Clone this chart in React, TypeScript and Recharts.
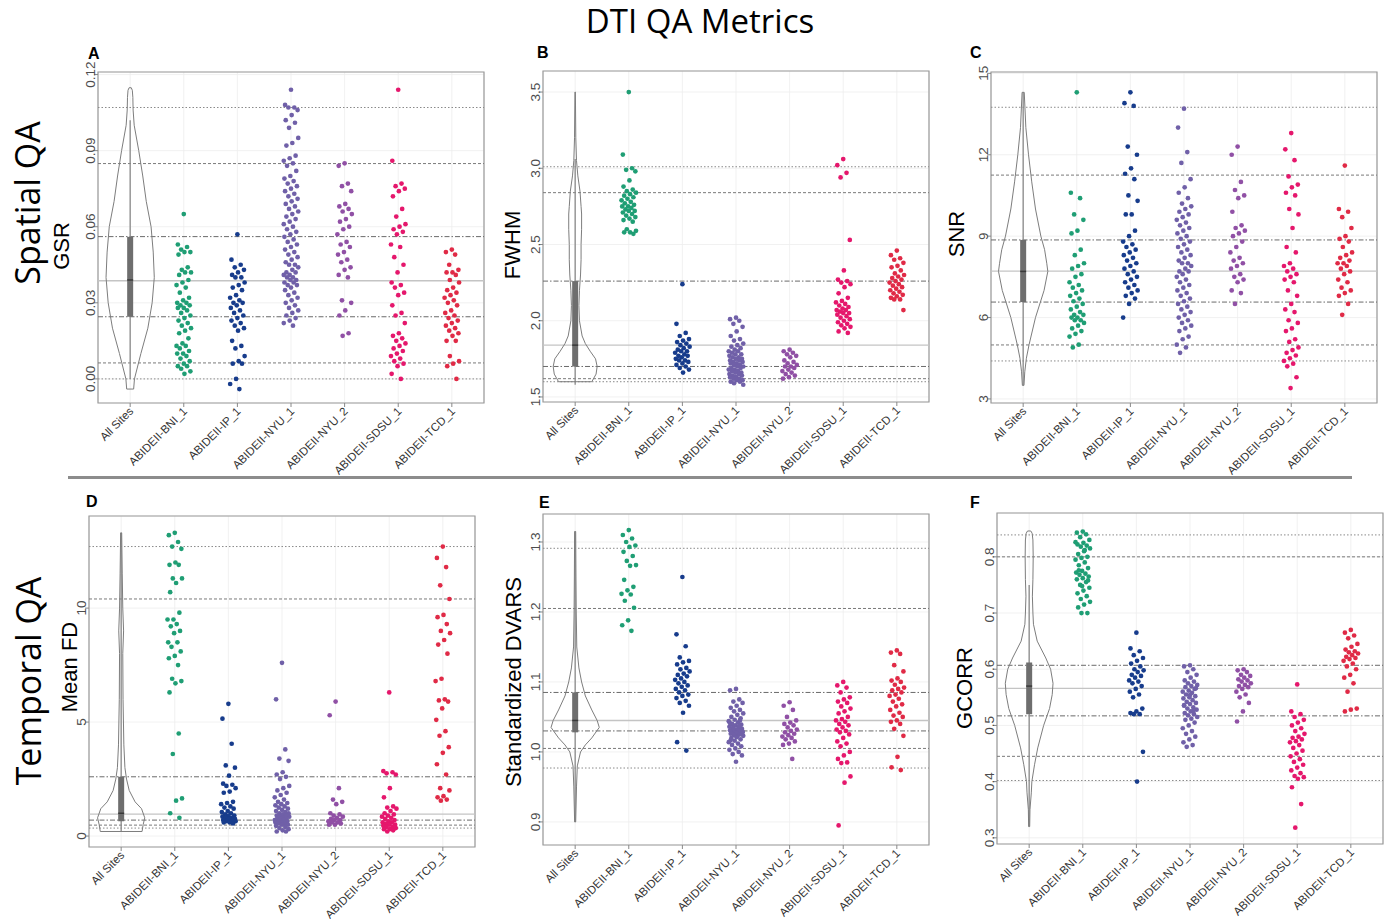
import React from 'react';
import { ScatterChart, Scatter, XAxis, YAxis, CartesianGrid, ReferenceLine, ReferenceArea } from 'recharts';

const sites = ['All Sites', 'ABIDEII-BNI_1', 'ABIDEII-IP_1', 'ABIDEII-NYU_1', 'ABIDEII-NYU_2', 'ABIDEII-SDSU_1', 'ABIDEII-TCD_1'];
const siteColors = ['#1f9e74', '#173c8c', '#7060a8', '#9050a5', '#e5176c', '#e02a46'];

// ---- GSR ----
const gsrBni = [0.065,0.053,0.052,0.051,0.05,0.05,0.049,0.044,0.043,0.042,0.042,0.041,0.039,0.038,0.037,0.036,0.034,0.032,0.031,0.03,0.03,0.029,0.029,0.028,0.028,0.027,0.026,0.025,0.024,0.023,0.022,0.021,0.02,0.019,0.018,0.016,0.014,0.013,0.013,0.012,0.011,0.01,0.01,0.009,0.008,0.007,0.006,0.005,0.005,0.004,0.003,0.002];
const gsrIp = [0.057,0.047,0.045,0.044,0.043,0.042,0.041,0.04,0.04,0.038,0.037,0.036,0.035,0.033,0.032,0.031,0.03,0.03,0.029,0.028,0.027,0.026,0.025,0.024,0.023,0.022,0.021,0.02,0.019,0.015,0.013,0.012,0.009,0.007,0.006,0.006,0.0,-0.002,-0.004];
const gsrNyu1 = [0.114,0.108,0.107,0.107,0.106,0.104,0.102,0.101,0.099,0.095,0.093,0.092,0.088,0.087,0.086,0.085,0.084,0.082,0.08,0.079,0.078,0.077,0.076,0.075,0.074,0.073,0.072,0.071,0.07,0.069,0.068,0.067,0.066,0.065,0.064,0.063,0.062,0.061,0.06,0.059,0.058,0.057,0.056,0.055,0.054,0.053,0.052,0.051,0.05,0.049,0.048,0.047,0.046,0.045,0.045,0.044,0.043,0.042,0.042,0.041,0.041,0.04,0.04,0.039,0.039,0.038,0.038,0.037,0.037,0.036,0.035,0.034,0.033,0.032,0.031,0.03,0.029,0.028,0.027,0.026,0.025,0.024,0.023,0.022,0.021];
const gsrNyu2 = [0.085,0.084,0.077,0.076,0.074,0.069,0.068,0.067,0.066,0.065,0.063,0.062,0.06,0.059,0.057,0.054,0.053,0.052,0.05,0.049,0.047,0.046,0.044,0.043,0.041,0.04,0.031,0.03,0.027,0.025,0.018,0.017];
const gsrSdsu = [0.114,0.086,0.077,0.076,0.075,0.074,0.072,0.067,0.064,0.061,0.06,0.059,0.058,0.057,0.053,0.052,0.048,0.045,0.042,0.038,0.037,0.036,0.034,0.033,0.029,0.026,0.025,0.022,0.018,0.017,0.016,0.015,0.014,0.013,0.012,0.011,0.01,0.009,0.008,0.007,0.006,0.005,0.002,0.0];
const gsrTcd = [0.051,0.05,0.049,0.045,0.043,0.042,0.042,0.041,0.039,0.038,0.036,0.035,0.034,0.033,0.032,0.031,0.03,0.029,0.027,0.026,0.025,0.024,0.023,0.022,0.021,0.02,0.019,0.018,0.017,0.015,0.015,0.009,0.007,0.006,0.005,0.0];
const gsrViolin = [[-0.004,0.065],[0,0.08],[0.01,0.2],[0.02,0.33],[0.03,0.41],[0.04,0.45],[0.05,0.43],[0.06,0.39],[0.07,0.3],[0.08,0.235],[0.09,0.16],[0.1,0.075],[0.106,0.055],[0.111,0.05],[0.1138,0.04],[0.1148,0.02]];
const gsrBox = [0.0, 0.0245, 0.039, 0.056, 0.102];
const gsrRefs = [0.107, 0.0849, 0.0561, 0.0387, 0.0245, 0.0063, 0.0];

// ---- FWHM ----
const fwhmBni = [3.5,3.09,3.0,2.99,2.98,2.92,2.88,2.86,2.85,2.84,2.83,2.82,2.81,2.8,2.79,2.78,2.77,2.76,2.75,2.75,2.74,2.73,2.72,2.72,2.71,2.7,2.69,2.68,2.67,2.66,2.65,2.6,2.59,2.58,2.58,2.57];
const fwhmIp = [2.24,1.98,1.92,1.9,1.88,1.87,1.86,1.85,1.84,1.83,1.82,1.81,1.8,1.8,1.79,1.78,1.77,1.77,1.76,1.75,1.74,1.74,1.73,1.72,1.71,1.7,1.69,1.68,1.66];
const fwhmNyu1 = [2.02,2.01,2.0,1.98,1.96,1.93,1.9,1.88,1.87,1.85,1.84,1.83,1.82,1.81,1.8,1.8,1.79,1.78,1.78,1.77,1.76,1.76,1.75,1.75,1.74,1.74,1.73,1.73,1.72,1.72,1.71,1.71,1.7,1.7,1.69,1.69,1.68,1.68,1.67,1.67,1.66,1.66,1.65,1.65,1.64,1.64,1.63,1.63,1.62,1.62,1.61,1.61,1.6,1.6,1.59,1.58];
const fwhmNyu2 = [1.81,1.8,1.79,1.78,1.77,1.76,1.74,1.73,1.72,1.71,1.7,1.7,1.69,1.68,1.67,1.66,1.65,1.64,1.63,1.62];
const fwhmSdsu = [3.06,3.02,2.97,2.94,2.53,2.33,2.27,2.26,2.25,2.24,2.22,2.18,2.15,2.13,2.12,2.11,2.1,2.09,2.08,2.07,2.07,2.06,2.05,2.05,2.04,2.03,2.02,2.01,2.0,1.99,1.98,1.97,1.96,1.95,1.93,1.92];
const fwhmTcd = [2.46,2.43,2.41,2.4,2.38,2.36,2.35,2.33,2.31,2.3,2.29,2.28,2.27,2.26,2.25,2.24,2.23,2.22,2.21,2.2,2.19,2.18,2.17,2.16,2.15,2.14,2.14,2.07];
const fwhmViolin = [[1.6,0.31],[1.65,0.39],[1.7,0.41],[1.75,0.38],[1.8,0.28],[1.85,0.19],[1.9,0.13],[2.0,0.08],[2.1,0.07],[2.2,0.08],[2.3,0.1],[2.4,0.11],[2.5,0.11],[2.6,0.12],[2.7,0.12],[2.75,0.11],[2.85,0.09],[2.95,0.05],[3.05,0.025],[3.2,0.012],[3.5,0.004]];
const fwhmBox = [1.58, 1.7, 1.84, 2.26, 3.06];
const fwhmRefs = [3.01, 2.84, 2.26, 1.84, 1.7, 1.62, 1.6];

// ---- SNR ----
const snrBni = [14.3,10.6,10.4,9.8,9.6,9.2,9.1,8.5,8.3,8.0,7.9,7.8,7.6,7.5,7.3,7.2,7.1,7.0,6.9,6.8,6.7,6.6,6.5,6.4,6.3,6.2,6.1,6.1,6.0,6.0,5.9,5.9,5.8,5.7,5.6,5.5,5.4,5.3,5.0,4.9];
const snrIp = [14.3,13.9,13.8,12.3,12.0,11.5,11.3,11.1,10.5,10.3,9.8,9.8,9.2,9.0,8.8,8.7,8.6,8.5,8.4,8.3,8.2,8.1,8.0,7.9,7.8,7.7,7.6,7.5,7.4,7.3,7.2,7.1,7.0,6.9,6.8,6.7,6.5,6.0];
const snrNyu1 = [13.7,13.0,12.1,11.7,11.1,10.8,10.6,10.4,10.2,10.1,10.0,9.9,9.8,9.7,9.6,9.5,9.4,9.3,9.2,9.1,9.0,8.9,8.8,8.7,8.6,8.5,8.4,8.3,8.2,8.1,8.0,8.0,7.9,7.8,7.7,7.7,7.6,7.5,7.4,7.3,7.2,7.1,7.0,6.9,6.8,6.7,6.6,6.5,6.4,6.3,6.2,6.1,6.0,5.9,5.8,5.7,5.6,5.5,5.3,5.2,5.0,4.9,4.7];
const snrNyu2 = [12.3,12.0,11.0,10.7,10.5,10.4,9.9,9.4,9.3,9.2,9.1,9.0,8.8,8.6,8.4,8.2,8.1,8.0,7.9,7.8,7.6,7.5,7.4,7.3,7.0,6.9,6.5];
const snrSdsu = [12.8,12.2,11.8,11.2,10.9,10.8,10.6,10.5,10.0,9.8,9.3,8.6,8.4,8.0,7.9,7.8,7.7,7.6,7.5,7.4,7.3,7.0,6.8,6.5,6.3,6.2,5.9,5.8,5.6,5.5,5.2,5.1,4.9,4.8,4.7,4.6,4.5,4.4,4.3,4.2,3.8,3.4];
const snrTcd = [11.6,10.0,9.9,9.7,9.3,9.0,8.9,8.8,8.6,8.4,8.3,8.2,8.1,8.0,8.0,7.9,7.8,7.7,7.6,7.4,7.3,7.1,7.0,6.9,6.8,6.5,6.1];
const snrViolin = [[3.5,0.015],[4,0.03],[4.5,0.06],[5,0.11],[6,0.23],[6.5,0.31],[7,0.39],[7.7,0.46],[8,0.44],[8.5,0.4],[9,0.33],[10,0.23],[11,0.16],[12,0.1],[13,0.05],[14.3,0.02]];
const snrBox = [3.5, 6.57, 7.7, 8.86, 14.3];
const snrRefs = [13.75, 11.25, 8.86, 7.71, 6.57, 4.99, 4.4];

// ---- Mean FD ----
const fdBni = [13.3,13.2,12.9,12.7,12.6,12.0,11.9,11.9,11.3,11.3,11.1,10.7,9.8,9.5,9.5,9.3,9.2,9.0,8.9,8.5,8.5,8.3,8.1,7.9,7.8,7.5,6.9,6.8,6.7,6.3,4.5,3.6,1.65,1.55,1.0,0.8];
const fdIp = [5.8,5.15,4.05,3.1,3.0,2.65,2.3,2.25,2.2,2.1,1.95,1.9,1.5,1.45,1.4,1.3,1.25,1.2,1.1,1.05,1.0,0.95,0.9,0.9,0.85,0.8,0.8,0.75,0.75,0.7,0.7,0.65,0.65,0.6,0.6,0.55];
const fdNyu1 = [7.6,6.0,3.8,3.4,3.3,2.8,2.7,2.6,2.5,2.2,2.1,2.0,1.9,1.8,1.7,1.6,1.5,1.45,1.4,1.35,1.3,1.25,1.2,1.15,1.1,1.05,1.0,1.0,0.95,0.9,0.9,0.85,0.85,0.8,0.8,0.75,0.75,0.7,0.7,0.65,0.65,0.6,0.6,0.55,0.55,0.5,0.5,0.45,0.4,0.35,0.3,0.25,0.2,0.2];
const fdNyu2 = [5.9,5.3,2.1,1.6,1.5,1.4,1.0,0.95,0.9,0.85,0.8,0.75,0.7,0.7,0.65,0.6,0.6,0.55,0.5,0.5];
const fdSdsu = [6.3,2.85,2.8,2.75,2.7,2.1,1.7,1.3,1.25,1.2,1.1,1.0,0.95,0.9,0.85,0.8,0.75,0.7,0.65,0.6,0.6,0.55,0.5,0.5,0.45,0.4,0.4,0.35,0.3,0.3,0.25,0.2];
const fdTcd = [12.7,12.2,11.8,11.0,10.4,9.7,9.6,9.3,9.0,8.9,8.6,8.4,8.0,6.9,6.8,6.0,5.95,5.9,5.6,5.1,4.6,4.4,3.9,3.65,3.15,2.7,2.1,2.0,1.75,1.7,1.6,1.55];
const fdViolin = [[0.2,0.39],[0.5,0.41],[0.8,0.44],[1.2,0.38],[1.5,0.26],[2,0.15],[2.5,0.1],[3,0.07],[4,0.05],[6,0.035],[8,0.03],[9,0.045],[10,0.03],[11.5,0.02],[13.3,0.01]];
const fdBox = [0.2, 0.65, 1.0, 2.6, 13.3];
const fdRefs = [12.7, 10.4, 2.6, 0.96, 0.7, 0.48, 0.35];

// ---- Standardized DVARS ----
const dvBni = [1.317,1.31,1.305,1.3,1.295,1.293,1.286,1.28,1.273,1.267,1.266,1.246,1.236,1.231,1.226,1.225,1.216,1.206,1.188,1.181,1.173];
const dvIp = [1.25,1.168,1.151,1.135,1.13,1.128,1.125,1.12,1.118,1.115,1.112,1.11,1.108,1.105,1.103,1.1,1.098,1.095,1.093,1.09,1.088,1.085,1.082,1.08,1.077,1.073,1.07,1.066,1.056,1.014,1.002];
const dvNyu1 = [1.09,1.088,1.075,1.072,1.07,1.066,1.063,1.06,1.058,1.055,1.053,1.05,1.048,1.046,1.044,1.042,1.04,1.039,1.038,1.036,1.035,1.034,1.033,1.032,1.031,1.03,1.029,1.028,1.027,1.026,1.025,1.024,1.023,1.022,1.02,1.018,1.016,1.014,1.012,1.01,1.008,1.005,1.003,1.0,0.997,0.995,0.986,1.041,1.037,1.033,1.029,1.021,1.017,1.045];
const dvNyu2 = [1.071,1.066,1.06,1.05,1.045,1.042,1.04,1.038,1.035,1.032,1.03,1.028,1.026,1.024,1.022,1.02,1.018,1.015,1.012,1.01,0.99];
const dvSdsu = [1.1,1.095,1.092,1.085,1.078,1.075,1.072,1.07,1.065,1.062,1.058,1.055,1.05,1.047,1.045,1.043,1.04,1.038,1.035,1.032,1.03,1.028,1.025,1.02,1.015,1.012,1.008,1.0,0.995,0.99,0.985,0.984,0.965,0.956,0.895];
const dvTcd = [1.145,1.142,1.14,1.124,1.115,1.105,1.102,1.1,1.096,1.092,1.09,1.088,1.085,1.082,1.08,1.076,1.072,1.068,1.065,1.06,1.056,1.052,1.05,1.045,1.043,1.04,1.033,1.023,0.993,0.978,0.974];
const dvViolin = [[0.9,0.01],[0.95,0.025],[0.98,0.04],[1.0,0.1],[1.01,0.19],[1.02,0.31],[1.035,0.45],[1.045,0.41],[1.06,0.31],[1.08,0.19],[1.1,0.12],[1.12,0.07],[1.15,0.03],[1.2,0.02],[1.25,0.015],[1.315,0.01]];
const dvBox = [0.9, 1.028, 1.045, 1.085, 1.315];
const dvRefs = [1.291, 1.205, 1.085, 1.045, 1.03, 1.005, 0.977];

// ---- GCORR ----
const gcBni = [0.845,0.843,0.84,0.835,0.83,0.825,0.822,0.82,0.818,0.815,0.81,0.805,0.8,0.798,0.795,0.79,0.785,0.78,0.775,0.772,0.77,0.768,0.765,0.762,0.76,0.755,0.75,0.745,0.74,0.735,0.73,0.725,0.72,0.715,0.71,0.7,0.7,0.826,0.812,0.776,0.758,0.748];
const gcIp = [0.665,0.637,0.632,0.625,0.62,0.615,0.61,0.605,0.6,0.598,0.595,0.59,0.588,0.585,0.58,0.578,0.575,0.57,0.565,0.56,0.555,0.55,0.53,0.525,0.522,0.52,0.52,0.453,0.4];
const gcNyu1 = [0.607,0.605,0.6,0.595,0.59,0.585,0.58,0.578,0.575,0.572,0.57,0.568,0.565,0.562,0.56,0.558,0.555,0.552,0.55,0.548,0.545,0.542,0.54,0.538,0.535,0.532,0.53,0.528,0.525,0.522,0.52,0.518,0.515,0.512,0.51,0.505,0.5,0.495,0.49,0.485,0.48,0.475,0.47,0.465,0.462,0.566,0.554,0.536,0.526];
const gcNyu2 = [0.6,0.598,0.595,0.59,0.588,0.585,0.582,0.58,0.578,0.575,0.572,0.57,0.568,0.565,0.56,0.555,0.55,0.54,0.525,0.507];
const gcSdsu = [0.573,0.525,0.52,0.515,0.51,0.505,0.5,0.495,0.49,0.485,0.48,0.478,0.475,0.472,0.47,0.465,0.46,0.455,0.45,0.445,0.44,0.435,0.43,0.425,0.42,0.415,0.41,0.408,0.405,0.39,0.36,0.318];
const gcTcd = [0.67,0.665,0.66,0.655,0.645,0.64,0.635,0.632,0.63,0.628,0.625,0.622,0.62,0.618,0.615,0.61,0.605,0.6,0.59,0.585,0.575,0.56,0.53,0.528,0.525];
const gcViolin = [[0.32,0.01],[0.35,0.015],[0.38,0.04],[0.4,0.05],[0.43,0.1],[0.46,0.16],[0.5,0.27],[0.53,0.38],[0.555,0.43],[0.575,0.445],[0.6,0.4],[0.62,0.31],[0.65,0.15],[0.68,0.08],[0.7,0.07],[0.73,0.06],[0.76,0.07],[0.8,0.075],[0.83,0.07],[0.842,0.055],[0.846,0.03]];
const gcBox = [0.32, 0.52, 0.57, 0.612, 0.75];
const gcRefs = [0.839, 0.8, 0.607, 0.566, 0.517, 0.445, 0.402];

const refStyles = [
  { stroke: '#8a8a8a', strokeDasharray: '1.5 2', strokeWidth: 1 },
  { stroke: '#7a7a7a', strokeDasharray: '3 2', strokeWidth: 1 },
  { stroke: '#6a6a6a', strokeDasharray: '5 2 1.5 2', strokeWidth: 1 },
  { stroke: '#c4c4c4', strokeDasharray: undefined, strokeWidth: 1.4 },
  { stroke: '#6a6a6a', strokeDasharray: '5 2 1.5 2', strokeWidth: 1 },
  { stroke: '#7a7a7a', strokeDasharray: '3 2', strokeWidth: 1 },
  { stroke: '#8a8a8a', strokeDasharray: '1.5 2', strokeWidth: 1 },
];

const W = 386;
const H = 331;
const YW = 40;
const XH = 82;
const MT = 20;
const MR = 8;

const jitter = (j: number) => ((((j * 37 + 11) % 23) / 22) - 0.5) * 0.27;

const XTick = (props: any) => {
  const { x, y, payload } = props;
  const tx = x + 4;
  const ty = y + 3;
  return (
    <text x={tx} y={ty} transform={`rotate(-45, ${tx}, ${ty})`} textAnchor="end" fontSize={11.5} fill="#333" fontFamily="Liberation Sans, Arial, sans-serif">
      {sites[payload.value]}
    </text>
  );
};

const makeYTick = (fmt: (v: number) => string) => (props: any) => {
  const { x, y, payload } = props;
  const tx = x + 3;
  return (
    <text x={tx} y={y} transform={`rotate(-90, ${tx}, ${y})`} textAnchor="middle" fontSize={13.5} fill="#4d4d4d" fontFamily="Liberation Sans, Arial, sans-serif">
      {fmt(payload.value)}
    </text>
  );
};

const dot = (color: string) => (props: any) => <circle cx={props.cx} cy={props.cy} r={2.35} fill={color} />;
const noShape = () => <g />;

interface PanelDef {
  left: number;
  top: number;
  domain: [number, number];
  ticks: number[];
  fmt: (v: number) => string;
  refs: number[];
  violin: number[][];
  box: number[];
  points: number[][];
}

const Panel = ({ p }: { p: PanelDef }) => {
  const right = p.violin.map(([v, w]) => ({ x: w, y: v }));
  const left = p.violin.slice().reverse().map(([v, w]) => ({ x: -w, y: v }));
  const poly = [...right, ...left, right[0]];
  const [lo, q1, med, q3, hi] = p.box;
  return (
    <div style={{ position: 'absolute', left: p.left - YW, top: p.top - MT }}>
      <ScatterChart width={W + YW + MR} height={H + MT + XH} margin={{ top: MT, right: MR, bottom: 0, left: 0 }}>
        <CartesianGrid stroke="#ededed" strokeWidth={0.8} />
        <XAxis type="number" dataKey="x" domain={[-0.6, 6.6]} ticks={[0, 1, 2, 3, 4, 5, 6]} interval={0} height={XH}
          allowDataOverflow axisLine={false} tickSize={4} tickLine={{ stroke: '#888' }} tick={<XTick />} />
        <YAxis type="number" dataKey="y" domain={p.domain} ticks={p.ticks} interval={0} width={YW}
          allowDataOverflow axisLine={false} tickSize={4} tickLine={{ stroke: '#888' }} tick={makeYTick(p.fmt)} />
        <ReferenceArea x1={-0.6} x2={6.6} y1={p.domain[0]} y2={p.domain[1]} fill="none" stroke="#9a9a9a" strokeWidth={1.2} />
        {p.refs.map((v, i) => (
          <ReferenceLine key={i} y={v} stroke={refStyles[i].stroke} strokeDasharray={refStyles[i].strokeDasharray} strokeWidth={refStyles[i].strokeWidth} />
        ))}
        <Scatter data={poly} line={{ stroke: '#7d7d7d', strokeWidth: 1 }} shape={noShape} isAnimationActive={false} />
        <ReferenceLine segment={[{ x: 0, y: lo }, { x: 0, y: hi }]} stroke="#8a8a8a" strokeWidth={1.3} />
        <ReferenceLine segment={[{ x: 0, y: q1 }, { x: 0, y: q3 }]} stroke="#6e6e6e" strokeWidth={6} />
        <ReferenceLine segment={[{ x: -0.055, y: med }, { x: 0.055, y: med }]} stroke="#3a3a3a" strokeWidth={1.5} />
        {p.points.map((vals, i) => (
          <Scatter key={i} data={vals.map((v, j) => ({ x: i + 1 + jitter(j), y: v }))} shape={dot(siteColors[i])} isAnimationActive={false} />
        ))}
      </ScatterChart>
    </div>
  );
};

const f2 = (v: number) => v.toFixed(2);
const f1 = (v: number) => v.toFixed(1);
const f0 = (v: number) => String(v);

const panels: PanelDef[] = [
  { left: 98, top: 72, domain: [-0.0095, 0.121], ticks: [0, 0.03, 0.06, 0.09, 0.12], fmt: f2, refs: gsrRefs, violin: gsrViolin, box: gsrBox,
    points: [gsrBni, gsrIp, gsrNyu1, gsrNyu2, gsrSdsu, gsrTcd] },
  { left: 543, top: 71, domain: [1.467, 3.638], ticks: [1.5, 2.0, 2.5, 3.0, 3.5], fmt: f1, refs: fwhmRefs, violin: fwhmViolin, box: fwhmBox,
    points: [fwhmBni, fwhmIp, fwhmNyu1, fwhmNyu2, fwhmSdsu, fwhmTcd] },
  { left: 991, top: 72, domain: [2.85, 15.05], ticks: [3, 6, 9, 12, 15], fmt: f0, refs: snrRefs, violin: snrViolin, box: snrBox,
    points: [snrBni, snrIp, snrNyu1, snrNyu2, snrSdsu, snrTcd] },
  { left: 89, top: 516, domain: [-0.48, 14.04], ticks: [0, 5, 10], fmt: f0, refs: fdRefs, violin: fdViolin, box: fdBox,
    points: [fdBni, fdIp, fdNyu1, fdNyu2, fdSdsu, fdTcd] },
  { left: 543, top: 514, domain: [0.867, 1.34], ticks: [0.9, 1.0, 1.1, 1.2, 1.3], fmt: f1, refs: dvRefs, violin: dvViolin, box: dvBox,
    points: [dvBni, dvIp, dvNyu1, dvNyu2, dvSdsu, dvTcd] },
  { left: 997, top: 513, domain: [0.289, 0.878], ticks: [0.3, 0.4, 0.5, 0.6, 0.7, 0.8], fmt: f1, refs: gcRefs, violin: gcViolin, box: gcBox,
    points: [gcBni, gcIp, gcNyu1, gcNyu2, gcSdsu, gcTcd] },
];

const VLabel = ({ x, y, size, text, font }: { x: number; y: number; size: number; text: string; font: string }) => (
  <div style={{ position: 'absolute', left: x, top: y, transform: 'translate(-50%, -50%) rotate(-90deg)', fontSize: size, fontFamily: font, whiteSpace: 'nowrap', lineHeight: 1, color: '#000' }}>
    {text}
  </div>
);

const Letter = ({ x, y, text }: { x: number; y: number; text: string }) => (
  <div style={{ position: 'absolute', left: x, top: y, fontSize: 16, fontWeight: 700, fontFamily: 'Liberation Sans, Arial, sans-serif', lineHeight: 1 }}>{text}</div>
);

const big = '"Open Sans", sans-serif';
const axisFont = 'Liberation Sans, Arial, sans-serif';

export default function App() {
  return (
    <div style={{ position: 'absolute', left: 0, top: 0, width: 1394, height: 919, background: '#fff' }}>
      <div style={{ position: 'absolute', left: 500, width: 400, top: 1, textAlign: 'center', fontFamily: big, fontSize: 33, lineHeight: 1.2, whiteSpace: 'nowrap' }}>DTI QA Metrics</div>
      <VLabel x={27} y={203} size={34} text="Spatial QA" font={big} />
      <VLabel x={28} y={681} size={34} text="Temporal QA" font={big} />
      <VLabel x={62} y={246} size={22} text="GSR" font={axisFont} />
      <VLabel x={513} y={245} size={22} text="FWHM" font={axisFont} />
      <VLabel x={957} y={234} size={22} text="SNR" font={axisFont} />
      <VLabel x={70} y={667} size={22} text="Mean FD" font={axisFont} />
      <VLabel x={514} y={682} size={22} text="Standardized DVARS" font={axisFont} />
      <VLabel x={965} y={688} size={22} text="GCORR" font={axisFont} />
      <Letter x={88} y={46} text="A" />
      <Letter x={537} y={45} text="B" />
      <Letter x={970} y={45} text="C" />
      <Letter x={86} y={494} text="D" />
      <Letter x={539} y={495} text="E" />
      <Letter x={970} y={495} text="F" />
      <div style={{ position: 'absolute', left: 68, top: 476, width: 1284, height: 3, background: '#8c8c8c' }} />
      {panels.map((p, i) => (
        <Panel key={i} p={p} />
      ))}
    </div>
  );
}
